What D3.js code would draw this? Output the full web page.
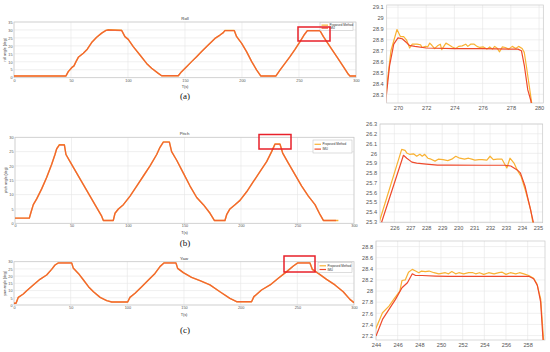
<!DOCTYPE html>
<html><head><meta charset="utf-8">
<script src="https://cdn.jsdelivr.net/npm/d3@7/dist/d3.min.js"></script>
<style>body{margin:0;background:#fff}svg{display:block}</style>
</head><body>
<svg id="chart" width="550" height="352"></svg>
<script>
// ---------- DATA ----------
const seriesNames = ["Proposed Method", "IMU"];
const panelTitles = ["Roll", "Pitch", "Yaw"];
const yLabels = ["roll angle (deg)", "pitch angle (deg)", "yaw angle (deg)"];
const subLabels = ["(a)", "(b)", "(c)"];
const leftXTicks = [0, 50, 100, 150, 200, 250, 300];
const rollYTicks = [0, 5, 10, 15, 20, 25, 30, 35];
const pitchYTicks = [0, 5, 10, 15, 20, 25, 30];
const yawYTicks = [0, 5, 10, 15, 20, 25, 30];

// Roll full run (left)
const rollT = [0,45.6,47.6,50.6,52.6,54.4,56.4,60.8,64.3,68.1,72.5,76.9,80.7,82.7,94.4,97.3,100.2,104.6,110.5,116.3,120.7,126.6,129.5,144.1,147,151.4,155.8,160.2,164.6,170.4,176.3,180.7,183.6,185,193.2,195.3,199.7,204,208.5,212.9,216.4,229.8,233.3,237.7,242.1,246.5,250.9,254.4,257.3,268.4,271.4,277.2,283.1,288.9,293.3,294.7,300];
const rollIMU = [1.1,1.1,3.8,6.3,7.4,10.1,12.8,15.4,17.9,22.1,25.4,28,29.7,30,29.7,25.8,24.1,19.5,14.3,9,5.9,2.7,1.2,1.2,3.8,6.9,10.1,13.2,16.4,20.5,24.7,26.8,28.3,29.6,29.6,25.8,21.6,16.4,10.1,4.8,1.1,1.1,4.8,9,13.2,17.8,22.7,26.8,29.5,29.5,25.8,19.5,13.2,6.9,2.1,1.1,1.1];
const rollProposed = [1.1,1.1,3.8,6.3,7.4,10.1,12.8,15.4,17.9,22.1,25.4,28,29.7,30.1,29.8,25.8,24.1,19.5,14.3,9,5.9,2.7,1.2,1.2,3.8,6.9,10.1,13.2,16.4,20.5,24.7,26.8,28.3,29.7,29.7,25.8,21.6,16.4,10.1,4.8,1.1,1.1,4.8,9,13.2,17.8,22.7,26.8,29.6,29.6,25.8,19.5,13.2,6.9,2.1,1.1,1.1];

// Pitch full run (left)
const pitchT = [0,12.7,13.9,16.2,19.2,23.6,28,32.4,35.4,36.9,39.2,43.7,45.1,48.7,54.6,60.5,66.4,72.3,76.7,78.2,87,88.5,91.5,95.9,101.8,107.7,113.6,119.5,125.4,128.3,131.3,136.6,138.6,143.1,149,154.9,160.8,166.7,172.6,176.4,185.8,187.3,190.2,194.7,199.1,205,210.9,216.8,222.7,227.1,230.1,234.5,236.9,241.9,247.8,253.7,259.6,265.5,270,272.9,284.1];
const pitchIMU = [1.8,1.8,3.5,6.5,8.5,12,16,20.5,24,26,27.3,27.3,24,21.5,17.5,13.5,9.5,5.5,2.5,1,1,3.5,5,6.5,9.5,13,16.5,20,24,26.5,28.3,28.3,25,22,17.5,13,9,6.5,3.5,1,1,3,5,6.5,8,11,14.5,18,21.5,25,27.6,27.6,24.5,21,17,13,9.5,6.5,3,1,1];
const pitchPropT = [0,12.7,13.9,16.2,19.2,23.6,28,32.4,35.4,36.9,39.2,43.7,45.1,48.7,54.6,60.5,66.4,72.3,76.7,78.2,87,88.5,91.5,95.9,101.8,107.7,113.6,119.5,125.4,128.3,131.3,136.6,138.6,143.1,149,154.9,160.8,166.7,172.6,176.4,185.8,187.3,190.2,194.7,199.1,205,210.9,216.8,222.7,227.1,230.1,234.5,236.9,241.9,247.8,253.7,259.6,265.5,270,272.9,286.2];
const pitchProposed = [1.8,1.8,3.5,6.5,8.5,12,16,20.5,24,26,27.4,27.4,24,21.5,17.5,13.5,9.5,5.5,2.5,1,1,3.5,5,6.5,9.5,13,16.5,20,24,26.5,28.4,28.4,25,22,17.5,13,9,6.5,3.5,1,1,3,5,6.5,8,11,14.5,18,21.5,25,27.7,27.7,24.5,21,17,13,9.5,6.5,3,1,1];

// Yaw full run (left)
const yawT = [0,1.8,3.8,8.2,11.2,17,22.9,28.8,33.2,36.2,39.1,50.9,52.4,56.8,61.3,65.7,70.1,76,81.8,86.3,100.3,102.3,106.8,112.7,118.6,124.4,128.8,132.4,142.9,144.4,149.4,156.7,164.1,172.9,181.7,190.5,196.4,209.6,211.7,218.4,226,233.2,240.6,246.5,250.3,261.1,263.2,268.5,275.8,283.2,290.5,296.4,300];
const yawIMU = [1.2,1.2,5.3,7.6,9.9,13.9,17.8,20.8,24.7,27.7,29.1,29.1,25.4,21.9,17.3,12.7,9.2,5.3,3,2.1,2.1,5.3,8.1,12.7,17.3,21.9,26.6,29.1,29.1,25.4,22.4,19.2,16.9,13.9,9.2,4.6,2.3,2.3,5.8,10.4,13.9,18.5,23.1,27,29.1,29.1,24.7,21.9,17.8,13.9,9.2,3.9,1.6];
const yawProposed = [1.2,1.2,5.3,7.6,9.9,13.9,17.8,20.8,24.7,27.7,29.2,29.2,25.4,21.9,17.3,12.7,9.2,5.3,3,2.1,2.1,5.3,8.1,12.7,17.3,21.9,26.6,29.2,29.2,25.4,22.4,19.2,16.9,13.9,9.2,4.6,2.3,2.3,5.8,10.4,13.9,18.5,23.1,27,29.2,29.2,24.7,21.9,17.8,13.9,9.2,3.9,1.6];

// Zoomed roll (right a)
const zRollXTicks = [270, 272, 274, 276, 278, 280];
const zRollYTicks = [28.3, 28.4, 28.5, 28.6, 28.7, 28.8, 28.9, 29, 29.1];
const zRollImuT = [269.1,269.4,269.7,270,270.3,270.6,270.8,271.2,272,274,276,278,278.5,278.75,278.96,279.2,279.4,279.55];
const zRollImu = [28.2,28.56,28.76,28.818,28.81,28.775,28.75,28.74,28.725,28.72,28.72,28.715,28.715,28.7,28.56,28.34,28.25,28.15];
const zRollPropT = [269.05,269.5,269.93,270.17,270.4,270.6,270.83,271,271.35,271.6,271.7,271.95,272.1,272.25,272.4,272.6,272.8,273,273.1,273.4,273.6,273.85,274.1,274.3,274.55,274.8,274.95,275.15,275.4,275.6,275.8,276.05,276.3,276.5,276.7,276.85,277.05,277.2,277.4,277.6,277.85,278.1,278.35,278.55,278.8,278.95,279.1,279.3,279.5];
const zRollProp = [28.2,28.7,28.895,28.83,28.83,28.8,28.725,28.76,28.76,28.755,28.73,28.74,28.735,28.77,28.75,28.72,28.745,28.76,28.71,28.77,28.755,28.735,28.72,28.74,28.745,28.76,28.74,28.76,28.76,28.74,28.73,28.735,28.715,28.735,28.715,28.74,28.72,28.69,28.735,28.73,28.715,28.74,28.72,28.74,28.72,28.685,28.56,28.38,28.2];

// Zoomed pitch (right b)
const zPitchXTicks = [226,227,228,229,230,231,232,233,234,235];
const zPitchYTicks = [25.3,25.4,25.5,25.6,25.7,25.8,25.9,26,26.1,26.2,26.3];
const zPitchImuT = [225.2,226.57,226.78,227.1,227.4,228,228.7,229.5,231.6,232.9,233.3,233.7,233.9,234.2,234.5,234.72];
const zPitchImu = [25.295,25.98,25.95,25.91,25.9,25.89,25.88,25.88,25.878,25.878,25.87,25.83,25.8,25.66,25.45,25.29];
const zPitchPropT = [225.05,226.46,226.67,226.8,226.95,227.2,227.4,227.6,227.75,227.9,228.1,228.3,228.55,228.75,229.05,229.35,229.6,229.85,230.1,230.4,230.65,230.85,231.05,231.3,231.5,231.8,232,232.2,232.45,232.75,233.05,233.25,233.5,233.7,233.95,234.2,234.55,234.68];
const zPitchProp = [25.295,26.04,26.03,26.0,25.99,25.995,25.97,25.99,25.97,25.99,25.95,25.94,25.92,25.94,25.935,25.925,25.94,25.97,25.95,25.94,25.95,25.94,25.93,25.935,25.935,25.93,25.97,25.935,25.94,25.94,25.85,25.95,25.9,25.83,25.76,25.63,25.42,25.29];

// Zoomed yaw (right c)
const zYawXTicks = [244,246,248,250,252,254,256,258];
const zYawYTicks = [27.2,27.4,27.6,27.8,28,28.2,28.4,28.6,28.8];
const zYawImuT = [244,244.6,245.2,245.8,246.4,246.9,247.35,247.65,248.25,249.5,250.7,253.8,256.9,258.1,258.55,258.9,259.2,259.42];
const zYawImu = [27.19,27.49,27.67,27.85,28.06,28.15,28.31,28.28,28.28,28.27,28.265,28.265,28.265,28.265,28.22,28.1,27.8,27.12];
const zYawPropT = [243.95,244.6,245.2,245.7,246.2,246.4,246.7,247,247.35,247.65,247.95,248.2,248.55,248.9,249.35,249.8,250.4,250.7,251,251.35,251.65,252.1,252.55,252.95,253.2,253.55,253.95,254.4,254.9,255.35,255.65,256,256.4,256.9,257.25,257.65,258.1,258.55,258.85,259.2,259.47];
const zYawProp = [27.31,27.61,27.73,27.87,28.0,28.19,28.2,28.34,28.39,28.36,28.33,28.36,28.35,28.36,28.33,28.31,28.33,28.31,28.35,28.31,28.33,28.31,28.33,28.33,28.31,28.33,28.30,28.33,28.31,28.33,28.34,28.30,28.33,28.31,28.33,28.31,28.28,28.23,28.13,27.86,27.12];

// ---------- DRAW ----------
const svg = d3.select("#chart");
const COL_PROP = "#f9b233", COL_IMU = "#ee4a2c";
const zip = (t, v) => t.map((d, i) => [d, v[i]]);

function panel(o) {
  const x = d3.scaleLinear().domain(o.xd).range([o.l, o.r]);
  const y = d3.scaleLinear().domain(o.yd).range([o.b, o.t]);
  const g = svg.append("g");
  const clipId = "clip" + Math.random().toString(36).slice(2);
  g.append("clipPath").attr("id", clipId).append("rect")
    .attr("x", o.l).attr("y", o.t).attr("width", o.r - o.l).attr("height", o.b - o.t);
  g.selectAll(null).data(o.xt).join("line")
    .attr("x1", d => x(d)).attr("x2", d => x(d)).attr("y1", o.t).attr("y2", o.b)
    .attr("stroke", "#e6e6e6").attr("stroke-width", 0.6);
  g.selectAll(null).data(o.yt).join("line")
    .attr("y1", d => y(d)).attr("y2", d => y(d)).attr("x1", o.l).attr("x2", o.r)
    .attr("stroke", "#e6e6e6").attr("stroke-width", 0.6);
  const fs = o.fs;
  const ax = g.append("g").attr("transform", `translate(0,${o.b})`)
    .call(d3.axisBottom(x).tickValues(o.xt).tickSize(0).tickPadding(o.xpad).tickFormat(d3.format("")));
  const ay = g.append("g").attr("transform", `translate(${o.l},0)`)
    .call(d3.axisLeft(y).tickValues(o.yt).tickSize(0).tickPadding(o.ypad).tickFormat(d => +d.toFixed(2)));
  [ax, ay].forEach(a => {
    a.select(".domain").remove();
    a.selectAll("text").attr("font-family", "Liberation Sans, Arial, sans-serif")
      .attr("font-size", fs).attr("fill", "#555");
  });
  g.append("rect").attr("x", o.l).attr("y", o.t).attr("width", o.r - o.l).attr("height", o.b - o.t)
    .attr("fill", "none").attr("stroke", "#c8c8c8").attr("stroke-width", 0.7);
  const line = d3.line().x(d => x(d[0])).y(d => y(d[1]));
  const lg = g.append("g").attr("clip-path", `url(#${clipId})`);
  lg.append("path").datum(o.prop).attr("d", line).attr("fill", "none")
    .attr("stroke", COL_PROP).attr("stroke-width", o.lw).attr("stroke-linejoin", "round");
  lg.append("path").datum(o.imu).attr("d", line).attr("fill", "none")
    .attr("stroke", COL_IMU).attr("stroke-width", o.lw).attr("stroke-linejoin", "round")
    .attr("stroke-opacity", o.imuOp);
  return { g, x, y };
}

function leftPanel(o, i) {
  const p = panel(Object.assign({ fs: 3.8, xpad: 1.2, ypad: 1.5, lw: 1.4, imuOp: 0.72 }, o));
  const { g } = p;
  const font = "Liberation Sans, Arial, sans-serif";
  g.append("text").attr("x", (o.l + o.r) / 2).attr("y", o.t - 2).attr("text-anchor", "middle")
    .attr("font-family", font).attr("font-size", 4.3).attr("fill", "#333").text(panelTitles[i]);
  g.append("text").attr("x", (o.l + o.r) / 2).attr("y", o.b + 10.5).attr("text-anchor", "middle")
    .attr("font-family", font).attr("font-size", 3.8).attr("fill", "#333").text("T(s)");
  g.append("text").attr("transform", `translate(${o.l - 8.5},${(o.t + o.b) / 2}) rotate(-90)`)
    .attr("text-anchor", "middle").attr("font-family", font).attr("font-size", 3.5)
    .attr("fill", "#333").text(yLabels[i]);
  const L = o.leg;
  g.append("rect").attr("x", L[0]).attr("y", L[1]).attr("width", L[2]).attr("height", L[3])
    .attr("fill", "#fff").attr("stroke", "#bbb").attr("stroke-width", 0.5);
  [COL_PROP, COL_IMU].forEach((c, k) => {
    const yy = L[1] + L[3] * (k === 0 ? 0.33 : 0.7);
    g.append("line").attr("x1", L[0] + 1.5).attr("x2", L[0] + 8).attr("y1", yy).attr("y2", yy)
      .attr("stroke", c).attr("stroke-width", 1.2);
    g.append("text").attr("x", L[0] + 9.5).attr("y", yy + 1).attr("font-family", font)
      .attr("font-size", 3).attr("fill", "#333").text(seriesNames[k]);
  });
  const R = o.rect;
  g.append("rect").attr("x", R[0]).attr("y", R[1]).attr("width", R[2]).attr("height", R[3])
    .attr("fill", "none").attr("stroke", "#e8202a").attr("stroke-width", 1.5);
  svg.append("text").attr("x", 185).attr("y", o.sub).attr("text-anchor", "middle")
    .attr("font-family", "Liberation Serif, Times New Roman, serif").attr("font-size", 9)
    .attr("fill", "#111").text(subLabels[i]);
}

leftPanel({ l: 14, r: 356, t: 22, b: 77.7, xd: [0, 300], yd: [0, 35], xt: leftXTicks, yt: rollYTicks,
  prop: zip(rollT, rollProposed), imu: zip(rollT, rollIMU),
  leg: [320, 22.5, 33, 8], rect: [298, 27, 32, 14], sub: 99 }, 0);
leftPanel({ l: 15, r: 354, t: 137.3, b: 223.3, xd: [0, 300], yd: [0, 30], xt: leftXTicks, yt: pitchYTicks,
  prop: zip(pitchPropT, pitchProposed), imu: zip(pitchT, pitchIMU),
  leg: [313, 140, 39, 13], rect: [259, 134.5, 32, 14.5], sub: 246 }, 1);
leftPanel({ l: 14, r: 354, t: 261.7, b: 305, xd: [0, 300], yd: [0, 30], xt: leftXTicks, yt: yawYTicks,
  prop: zip(yawT, yawProposed), imu: zip(yawT, yawIMU),
  leg: [318, 262.5, 34, 10], rect: [284, 256, 31, 16], sub: 333 }, 2);

const R = { fs: 5.6, xpad: 3, ypad: 3, lw: 1.2, imuOp: 1 };
panel(Object.assign({}, R, { l: 386.7, r: 543.3, t: 5, b: 103, xd: [269.2, 280.3], yd: [28.22, 29.12],
  xt: zRollXTicks, yt: zRollYTicks, prop: zip(zRollPropT, zRollProp), imu: zip(zRollImuT, zRollImu) }));
panel(Object.assign({}, R, { l: 380, r: 542.7, t: 124, b: 222.7, xd: [225.1, 235.3], yd: [25.29, 26.3],
  xt: zPitchXTicks, yt: zPitchYTicks, prop: zip(zPitchPropT, zPitchProp), imu: zip(zPitchImuT, zPitchImu) }));
panel(Object.assign({}, R, { l: 376, r: 545, t: 241, b: 340, xd: [244, 259.6], yd: [27.12, 28.9],
  xt: zYawXTicks, yt: zYawYTicks, prop: zip(zYawPropT, zYawProp), imu: zip(zYawImuT, zYawImu) }));
</script>
</body></html>
